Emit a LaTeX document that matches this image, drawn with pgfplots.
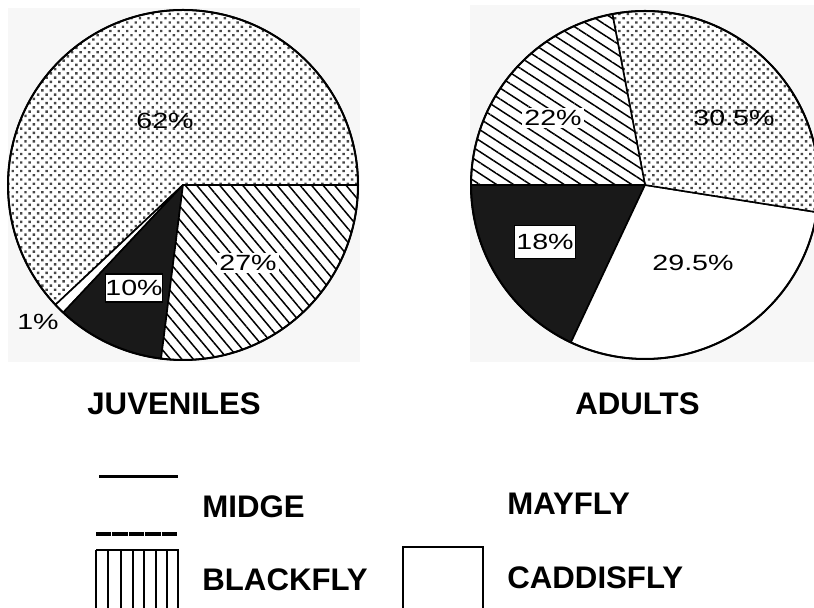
\documentclass[border=0pt]{standalone}
\usepackage{fontspec}
\setmainfont{Liberation Sans}
\newfontfamily\lettering[FakeStretch=1.3]{Liberation Sans}
\usepackage{pgfplots}
\usepackage{pgfplotstable}
\pgfplotsset{compat=1.18}
\usetikzlibrary{patterns.meta}

% slice shares (percent), drawn counter-clockwise from the start angle
\pgfplotstableread{
pct  sty
62   dotfill
1    whitefill
10   blackfill
27   hatchA
}\juvtab
\pgfplotstableread{
pct  sty
18   blackfill
29.5 whitefill
30.5 dotfill
22   hatchB
}\adutab

\tikzset{
  dotfill/.style={preaction={fill=white}, pattern={Dots[distance=3pt, radius=0.85pt, angle=45]}, pattern color=black!72},
  whitefill/.style={fill=white},
  blackfill/.style={fill=black!90},
  hatchA/.style={preaction={fill=white}, pattern={Lines[angle=-50, distance=4.4pt, line width=0.75pt]}},
  hatchB/.style={preaction={fill=white}, pattern={Lines[angle=-33, distance=4.6pt, line width=0.75pt]}},
  pct/.style={font=\lettering\fontsize{11}{12}\selectfont, inner sep=0pt},
  pctbg/.style={pct, fill=white, inner sep=1.2pt},
  pctbox/.style={pct, draw=black, line width=0.8pt, fill=white},
  key/.style={font=\bfseries\fontsize{15.6}{18}\selectfont, anchor=base west, inner sep=0pt},
}

% #1 table, #2 #3 centre (axis units), #4 radius, #5 start angle
\newcommand\drawpie[5]{%
  \pgfplotstablegetrowsof{#1}%
  \pgfmathtruncatemacro\lastrow{\pgfplotsretval-1}%
  \edef\acur{#5}%
  \pgfplotsforeachungrouped \i in {0,...,\lastrow}{%
    \pgfplotstablegetelem{\i}{pct}\of{#1}\let\pct\pgfplotsretval
    \pgfplotstablegetelem{\i}{sty}\of{#1}\let\sty\pgfplotsretval
    \pgfmathsetmacro\anext{\acur+3.6*\pct}%
    \edef\slice{\noexpand\path[draw=black, line width=0.8pt, line join=round, \sty]
      (axis cs:#2,#3) -- ++(\acur:#4) arc[start angle=\acur, end angle=\anext, radius=#4] -- cycle;}%
    \slice
    \let\acur\anext
  }%
  \draw[line width=1pt] (axis cs:#2,#3) circle[radius=#4];
}

\begin{document}
\begin{tikzpicture}
\begin{axis}[
  x=0.5pt, y=0.5pt,
  xmin=0, xmax=814, ymin=0, ymax=608,
  hide axis, clip=false,
]
% scanned backgrounds
\fill[gray!6] (axis cs:8,246) rectangle (axis cs:360,600);
\fill[gray!6] (axis cs:470,246) rectangle (axis cs:814,603);

\drawpie{\juvtab}{183}{423}{87.5pt}{0}
\drawpie{\adutab}{645}{423}{87pt}{180}

% percentage labels
\node[pct] at (axis cs:165,487) {62\%};
\node[pctbg] at (axis cs:248,345) {27\%};
\node[pctbox, minimum width=25pt, minimum height=14pt] at (axis cs:134,320) {10\%};
\node[pct] at (axis cs:38,286) {1\%};
\node[pctbg] at (axis cs:553,490) {22\%};
\node[pct] at (axis cs:734,490) {30.5\%};
\node[pctbox, minimum width=30.5pt, minimum height=16.5pt] at (axis cs:545,366) {18\%};
\node[pct] at (axis cs:693,345) {29.5\%};

% titles
\node[key] at (axis cs:87,193) {JUVENILES};
\node[key] at (axis cs:575,193) {ADULTS};

% key
\draw[line width=1.5pt] (axis cs:99,131) -- (axis cs:178,131);
\draw[line width=2pt, dash pattern=on 7.7pt off 0.5pt] (axis cs:96,74) -- (axis cs:178,74);
\draw[line width=1.2pt] (axis cs:96,58) -- (axis cs:179,58);
\foreach \vx in {96,108,121,133,144,156,167,178}{
  \edef\vl{\noexpand\draw[line width=0.9pt] (axis cs:\vx,58) -- (axis cs:\vx,-6);}\vl
}
\draw[line width=1.2pt, fill=white] (axis cs:403,-6) rectangle (axis cs:483,61);

\node[key] at (axis cs:202,90) {MIDGE};
\node[key] at (axis cs:202,17) {BLACKFLY};
\node[key] at (axis cs:507,93) {MAYFLY};
\node[key] at (axis cs:507,19) {CADDISFLY};
\end{axis}
\pgfresetboundingbox
\useasboundingbox (current axis.south west) rectangle (current axis.north east);
\end{tikzpicture}
\end{document}
